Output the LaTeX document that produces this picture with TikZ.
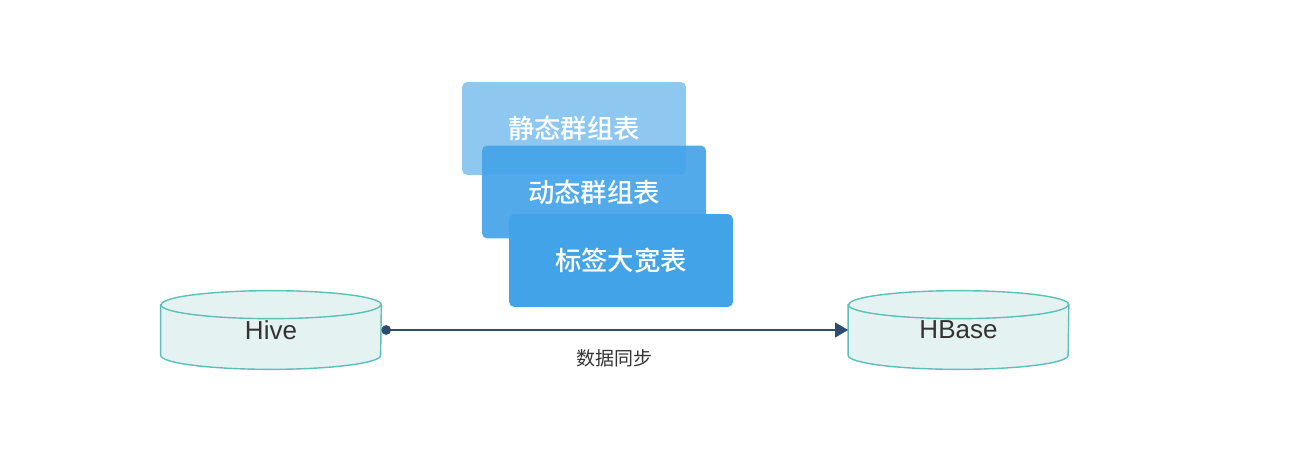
\documentclass[tikz,border=0pt]{standalone}
\usepackage{fontspec}
\setmainfont{Liberation Sans}
\newfontfamily\cjk{Noto Sans CJK SC}
\newfontfamily\cjkmed{Noto Sans CJK SC Medium}
\usepackage{tikz}
\usetikzlibrary{positioning, arrows.meta, backgrounds}
\definecolor{TableBlue}{RGB}{67,163,232}
\definecolor{StoreFill}{RGB}{228,243,241}
\definecolor{StoreEdge}{RGB}{94,190,186}
\definecolor{FlowBlue}{RGB}{46,76,109}
\definecolor{TextGray}{RGB}{51,51,51}
% cylinder drawn round a named node
\newcommand{\storecyl}[1]{%
  \path[fill=StoreFill, draw=StoreEdge, line width=0.8pt]
    ([yshift=-0.28cm]#1.north west) -- ([yshift=0.28cm]#1.south west)
    arc[start angle=180, end angle=360, x radius=2.2cm, y radius=0.28cm]
    -- ([yshift=-0.28cm]#1.north east)
    arc[start angle=0, end angle=180, x radius=2.2cm, y radius=0.28cm] -- cycle;
  \draw[StoreEdge, line width=0.8pt] ([yshift=-0.28cm]#1.north west)
    arc[start angle=180, end angle=360, x radius=2.2cm, y radius=0.28cm];}

\begin{document}
\begin{tikzpicture}[x=0.02cm, y=-0.02cm,
    tablebox/.style={fill=TableBlue, rounded corners=3pt, minimum width=4.48cm,
      minimum height=1.86cm, text=white, text opacity=1,
      font=\cjkmed\fontsize{15}{16}\selectfont},
    store/.style={minimum width=4.4cm, minimum height=1.56cm, text=TextGray,
      font=\fontsize{14.8}{16}\selectfont}]
  \useasboundingbox (0,0) rectangle (1300,466);
  % tables
  \node[tablebox, fill opacity=0.6] (static) at (574,128.5) {静态群组表};
  \node[tablebox, fill opacity=0.92] (dynamic) at (594,192) {动态群组表};
  \node[tablebox] (wide) at (621,260.5) {标签大宽表};
  % stores
  \node[store] (hive) at (271,330) {Hive};
  \node[store] (hbase) at (958.5,330) {HBase};
  \begin{scope}[on background layer]
    \storecyl{hive}
    \storecyl{hbase}
  \end{scope}
  \draw[{Circle[length=5.5pt]}-{Triangle[length=7.5pt, width=8.5pt]}, line width=0.9pt, FlowBlue]
    (hive.east) -- node[midway, yshift=-0.56cm, text=TextGray,
      font=\cjk\fontsize{10.8}{12}\selectfont] (sync) {数据同步} (hbase.west);
\end{tikzpicture}
\end{document}
